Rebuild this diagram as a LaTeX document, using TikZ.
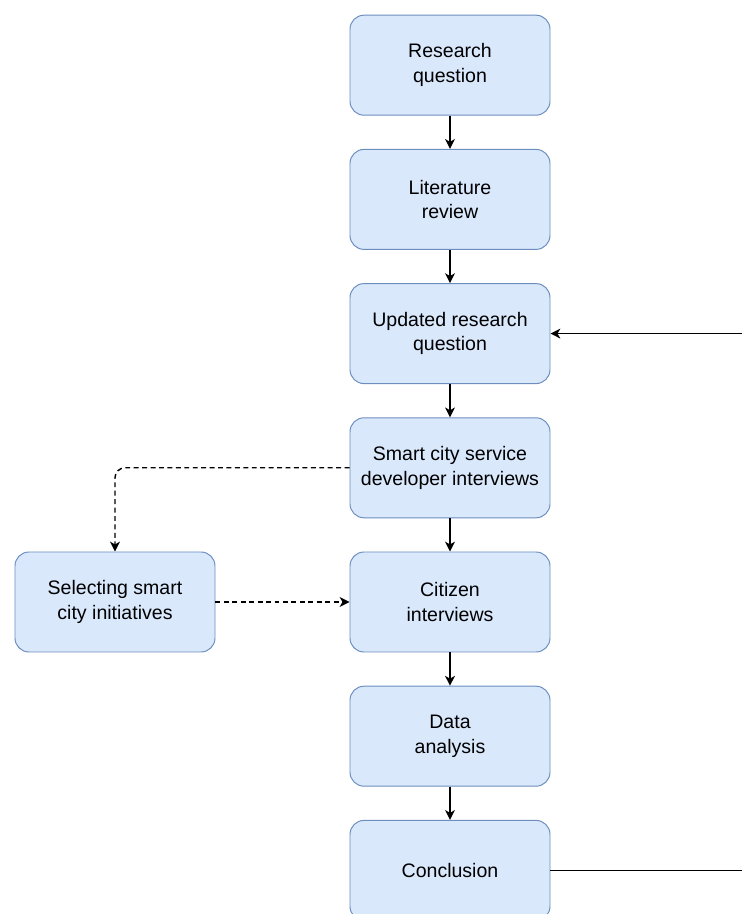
\documentclass[tikz,border=0pt]{standalone}
\usepackage{fontspec}
\setmainfont{Liberation Sans}
\usetikzlibrary{arrows.meta}
\definecolor{boxfill}{HTML}{DAE8FC}
\definecolor{boxline}{HTML}{6C8EBF}
\tikzset{
    stepbox/.style={draw=boxline, fill=boxfill, line width=0.7pt, rounded corners=0.35cm,
        minimum width=5cm, minimum height=2.5cm, align=center,
        font=\fontsize{13.9}{17.5}\selectfont},
    flow/.style={line width=1pt, -{Stealth[length=7pt,width=7pt,inset=2pt]}},
    loose/.style={line width=1pt, dashed, dash pattern=on 3.5pt off 2.5pt,
        -{Stealth[length=7pt,width=7pt,inset=2pt]}}
}
\begin{document}
\begin{tikzpicture}
    \useasboundingbox (0,0) rectangle (18.575,22.85);
    % Nodes
    \node[stepbox] (RQ) at (11.25,21.22) {Research\\question};
    \node[stepbox] (LR) at (11.25,17.865) {Literature\\review};
    \node[stepbox] (URQ) at (11.25,14.51) {Updated research\\question};
    \node[stepbox] (DEV) at (11.25,11.155) {Smart city service\\developer interviews};
    \node[stepbox] (CIT) at (11.25,7.80) {Citizen\\interviews};
    \node[stepbox] (DA) at (11.25,4.445) {Data\\analysis};
    \node[stepbox] (CON) at (11.25,1.09) {Conclusion};

    \node[stepbox] (SEL) at (2.875,7.80) {Selecting smart\\city initiatives};

    \coordinate (loopIn) at (18.55,14.51);
    \coordinate (loopOut) at (18.55,1.09);

    % Lines
    \draw[flow] (RQ) -- (LR);
    \draw[flow] (LR) -- (URQ);
    \draw[flow] (URQ) -- (DEV);
    \draw[flow] (DEV) -- (CIT);
    \draw[flow] (CIT) -- (DA);
    \draw[flow] (DA) -- (CON);

    \draw[loose, rounded corners=0.25cm] (DEV.west) -| (SEL.north);
    \draw[loose] (SEL) -- (CIT);

    \draw[line width=1pt] (CON.east) -- (loopOut);
    \draw[flow] (loopIn) -- (URQ.east);
\end{tikzpicture}
\end{document}
